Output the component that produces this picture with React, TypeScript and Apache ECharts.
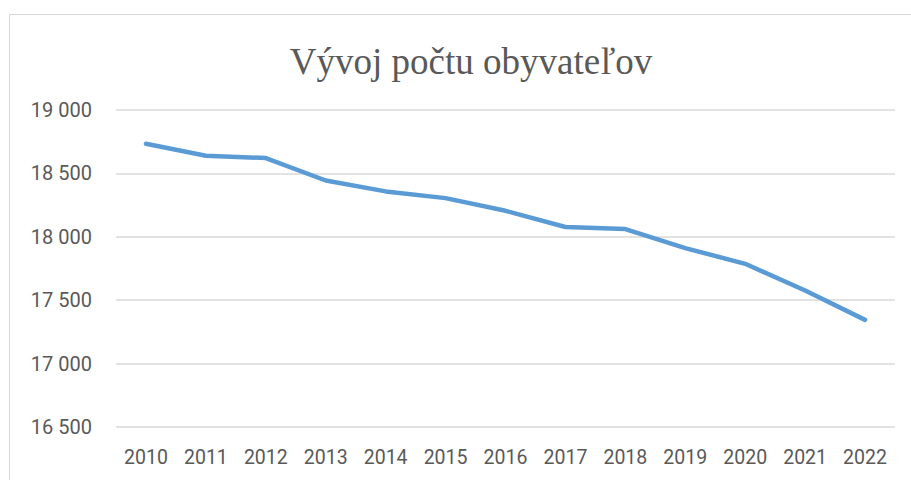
import React, { useEffect, useRef } from "react";
import * as echarts from "echarts";

const years = ["2010", "2011", "2012", "2013", "2014", "2015", "2016", "2017", "2018", "2019", "2020", "2021", "2022"];
const population = [18734, 18639, 18621, 18444, 18358, 18305, 18205, 18077, 18061, 17911, 17787, 17576, 17345];
const titleText = "Vývoj počtu obyvateľov";

const fmt = (v: number) => {
  const s = String(Math.round(v));
  return s.replace(/\B(?=(\d{3})+(?!\d))/g, " ");
};

export default function App() {
  const ref = useRef<HTMLDivElement>(null);
  useEffect(() => {
    document.body.style.margin = "0";
    const chart = echarts.init(ref.current!, null, { renderer: "svg" });
    chart.setOption({
      animation: false,
      backgroundColor: "#ffffff",
      title: {
        text: titleText,
        left: 466,
        top: 38,
        textAlign: "center",
        textStyle: {
          fontFamily: "Liberation Serif",
          fontSize: 37,
          fontWeight: "normal",
          color: "#595959",
        },
      },
      graphic: [
        {
          type: "rect",
          shape: { x: 9.5, y: 14.5, width: 1000, height: 600 },
          style: { fill: "none", stroke: "#d9d9d9", lineWidth: 1 },
          silent: true,
          z: -1,
        },
      ],
      grid: { left: 116, right: 16, top: 110, bottom: 53, containLabel: false },
      xAxis: {
        type: "category",
        data: years,
        boundaryGap: true,
        axisLine: { show: false },
        axisTick: { show: false },
        axisLabel: {
          color: "#595959",
          fontFamily: "Roboto",
          fontSize: 19.5,
          margin: 20,
        },
      },
      yAxis: {
        type: "value",
        min: 16500,
        max: 19000,
        interval: 500,
        axisLine: { show: false },
        axisTick: { show: false },
        splitLine: { lineStyle: { color: "#d9d9d9", width: 1.5 } },
        axisLabel: {
          color: "#595959",
          fontFamily: "Roboto",
          fontSize: 20,
          margin: 24,
          formatter: fmt,
        },
      },
      series: [
        {
          type: "line",
          data: population,
          showSymbol: false,
          symbol: "none",
          lineStyle: { color: "#5B9BD5", width: 4.5, cap: "round", join: "round" },
        },
      ],
    });
    return () => chart.dispose();
  }, []);
  return <div ref={ref} style={{ width: 911, height: 480, position: "absolute", left: 0, top: 0 }} />;
}
